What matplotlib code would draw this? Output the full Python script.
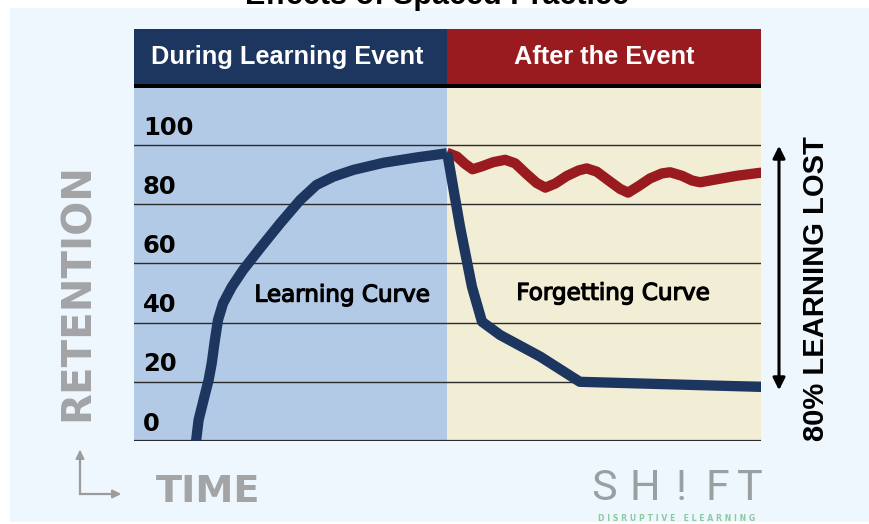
import matplotlib
matplotlib.use("Agg")
import matplotlib.pyplot as plt
from matplotlib.patches import Rectangle
from matplotlib import font_manager
import matplotlib.patheffects as pe

# ---- data ----
y_ticks = [0, 20, 40, 60, 80, 100]
learn_x = [9.9, 10.3, 11.1, 11.9, 12.4, 12.9, 13.4, 14.2, 15.6, 17.4, 20.1, 23.3, 26.5,
           29.1, 31.8, 35.0, 39.8, 45.1, 49.9]
learn_y = [0, 7.1, 13.9, 20.6, 26.3, 34.1, 40.9, 46.5, 52.1, 57.8, 65.1, 73.5, 81.4,
           86.5, 89.3, 91.6, 94.0, 95.8, 97.2]
forget_x = [49.9, 50.1, 52.0, 53.9, 55.5, 58.4, 64.8, 71.1, 99.8, 101]
forget_y = [97.3, 95.5, 72.4, 52.1, 40.3, 35.8, 28.5, 20.0, 18.3, 18.3]
spaced_x = [49.9, 51.5, 52.8, 54.0, 55.5, 57.3, 59.2, 60.8, 62.6, 64.2, 65.6, 67.2, 69.0,
            70.9, 72.2, 73.8, 75.7, 77.5, 78.8, 80.4, 82.3, 84.2, 85.5, 87.4, 89.0, 90.3,
            92.9, 96.1, 99.8, 101]
spaced_y = [97.4, 96.1, 93.6, 91.8, 92.8, 94.2, 95.0, 93.8, 90.2, 87.2, 85.6, 87.0, 89.5,
            91.4, 92.1, 91.0, 88.0, 85.2, 83.9, 86.0, 88.7, 90.4, 90.8, 89.6, 88.0, 87.4,
            88.4, 89.6, 90.6, 90.8]
phase_labels = ["During Learning Event", "After the Event"]
curve_labels = ["Learning Curve", "Forgetting Curve"]

names = {f.name for f in font_manager.fontManager.ttflist}
logo_family = "Roboto" if "Roboto" in names else "DejaVu Sans"

W, H = 870, 524
fig = plt.figure(figsize=(W / 100, H / 100), dpi=100)
fig.patch.set_facecolor("white")

# overlay in pixel coordinates
bg = fig.add_axes([0, 0, 1, 1], zorder=0)
bg.set_xlim(0, W)
bg.set_ylim(H, 0)
bg.axis("off")

BLUE = "#1C365F"
RED = "#9A1B1F"
LBLUE = "#B3CAE6"
BEIGE = "#F2EDD5"
PANEL = "#EEF6FE"
GRAY = "#A3A4A6"

bg.add_patch(Rectangle((10, 8), W - 10, 514, facecolor=PANEL, edgecolor="none"))
# header
bg.add_patch(Rectangle((134, 29), 313, 56, facecolor=BLUE, edgecolor="none"))
bg.add_patch(Rectangle((447, 29), 314, 56, facecolor=RED, edgecolor="none"))
bg.add_patch(Rectangle((134, 84), 627, 4.5, facecolor="black", edgecolor="none"))
hfont = dict(family=["Liberation Sans", "DejaVu Sans"], fontweight="bold", color="white", fontsize=18.3)
bg.text(287, 57, phase_labels[0], ha="center", va="center", **hfont)
bg.text(604, 57, phase_labels[1], ha="center", va="center", **hfont)

# title (cut off at top, as in the source image)
bg.text(437, 4, "Effects of Spaced Practice", ha="center", va="baseline",
        family=["Liberation Sans", "DejaVu Sans"], fontweight="bold", fontsize=22, color="black")

# RETENTION
bg.text(78, 292, "RETENTION", rotation=90, ha="center", va="center",
        family="DejaVu Sans", fontweight="bold", fontsize=29, color=GRAY)
# TIME
bg.text(156, 492, "TIME", ha="left", va="center",
        family="DejaVu Sans", fontweight="bold", fontsize=27.5, color=GRAY)
# L-shaped axis icon
bg.plot([80, 80, 117], [452, 494, 494], color="#9C9C9C", lw=1.6, solid_joinstyle="miter")
bg.annotate("", xy=(80, 447), xytext=(80, 462),
            arrowprops=dict(arrowstyle="-|>", color="#9C9C9C", lw=1.6, mutation_scale=12))
bg.annotate("", xy=(124, 494), xytext=(110, 494),
            arrowprops=dict(arrowstyle="-|>", color="#9C9C9C", lw=1.6, mutation_scale=12))

# 80% learning lost
bg.annotate("", xy=(779, 143), xytext=(779, 393),
            arrowprops=dict(arrowstyle="<|-|>", color="black", lw=2.2, mutation_scale=18))
bg.text(816, 289, "80% LEARNING LOST", rotation=90, ha="center", va="center",
        family=["Liberation Sans", "DejaVu Sans"], fontweight="bold", fontsize=21, color="black")

# SH!FT logo
for ch, xc in zip("SH!FT", [604, 645, 681, 717, 750]):
    bg.text(xc, 489, ch, ha="center", va="center", family=logo_family,
            fontweight="normal", fontsize=31, color="#969B9D", alpha=0.95)
bg.text(677, 523, "D I S R U P T I V E   E L E A R N I N G", ha="center", va="bottom",
        family="DejaVu Sans", fontweight="bold", fontsize=5.6, color="#8CCBA2")

# ---- main plot ----
left, right, top, bottom = 134, 761, 88, 441
ax = fig.add_axes([left / W, 1 - bottom / H, (right - left) / W, (bottom - top) / H], zorder=2)
ax.set_xlim(0, 100)
ymax = (bottom - top) / (59.2 / 20)
ax.set_ylim(0, ymax)
ax.axvspan(0, 50, color=LBLUE, lw=0, zorder=0)
ax.axvspan(50, 100, color=BEIGE, lw=0, zorder=0)
for v in y_ticks:
    ax.axhline(v, color="#2B2B2B", lw=1.0, zorder=1)
    ax.text(1.4, v + 5.9, str(v), ha="left", va="center", family="DejaVu Sans",
            fontweight="bold", fontsize=17.5, color="black", zorder=3)
ax.axhline(0, color="#2B2B2B", lw=1.6, zorder=1)

ax.plot(spaced_x, spaced_y, color=RED, lw=7.4, solid_joinstyle="round",
        solid_capstyle="butt", zorder=2)
ax.plot(learn_x, learn_y, color=BLUE, lw=7.4, solid_joinstyle="round",
        solid_capstyle="butt", zorder=2.5)
ax.plot(forget_x, forget_y, color=BLUE, lw=7.4, solid_joinstyle="round",
        solid_capstyle="butt", zorder=2.5)

lab = dict(family="DejaVu Sans", fontsize=16.6, color="black", ha="center", va="center", zorder=3,
           path_effects=[pe.withStroke(linewidth=0.9, foreground="black")])
ax.text(33.2, 49.3, curve_labels[0], **lab)
ax.text(76.4, 49.9, curve_labels[1], **lab)

ax.set_xticks([])
ax.set_yticks([])
for s in ax.spines.values():
    s.set_visible(False)

fig.savefig("out.png", dpi=100, facecolor="white")
